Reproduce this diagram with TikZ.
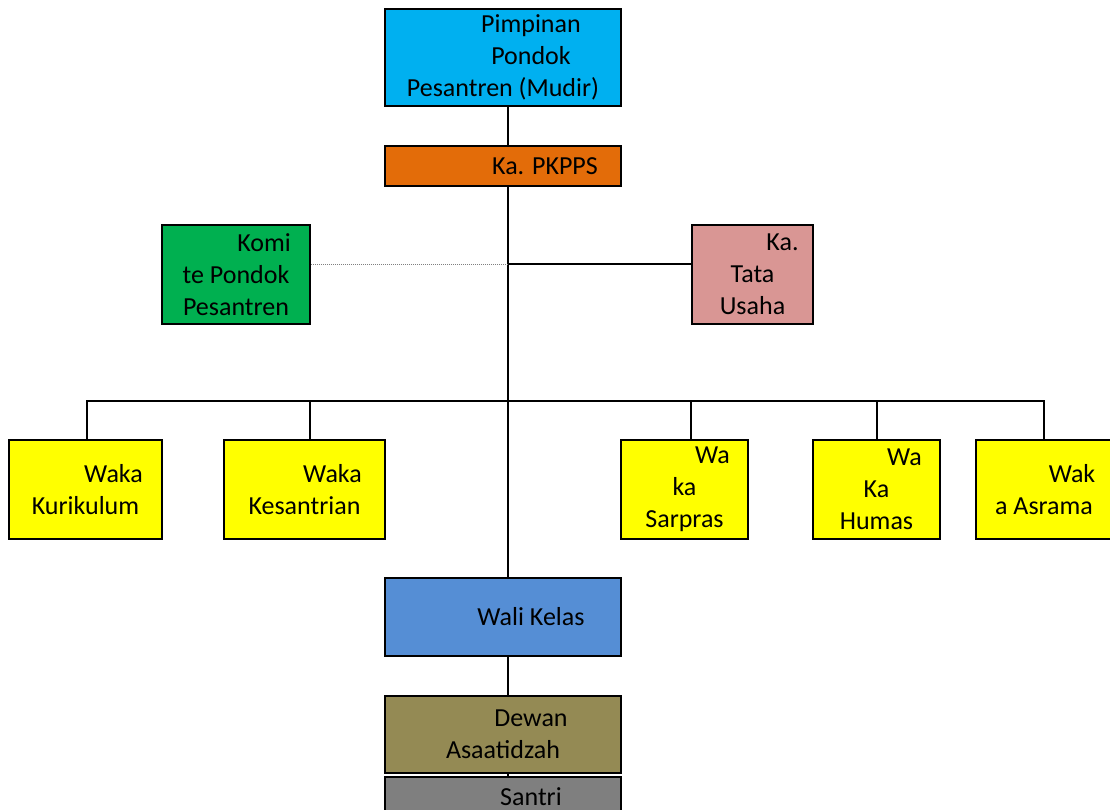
\documentclass[tikz,border=0pt]{standalone}
\usepackage{fontspec}
\setmainfont{Carlito}
\definecolor{mudircol}{HTML}{00B0F0}
\definecolor{pkppscol}{HTML}{E36C09}
\definecolor{komitecol}{HTML}{00B050}
\definecolor{tucol}{HTML}{D99694}
\definecolor{wakacol}{HTML}{FFFF00}
\definecolor{walicol}{HTML}{558ED5}
\definecolor{dewancol}{HTML}{948A54}
\definecolor{santricol}{HTML}{7F7F7F}
\tikzstyle{unit}=[rectangle,draw=black,line width=1.8pt,inner sep=0pt,align=center,font=\fontsize{26}{32}\selectfont]
\tikzstyle{waka}=[unit,fill=wakacol,minimum height=99pt]
\tikzstyle{link}=[draw=black,line width=1.8pt]
\tikzstyle{advisory}=[draw=gray,densely dotted,line width=1pt]
\newcommand{\firstindent}{\hspace*{56pt}}

\begin{document}
\begin{tikzpicture}[x=1pt,y=-1pt]
    \useasboundingbox (0,0) rectangle (1110,810);
    \node (mudir) at (503,57.5) [unit,fill=mudircol,minimum width=236pt,minimum height=97pt] {\firstindent Pimpinan\\\firstindent Pondok\\Pesantren (Mudir)};
    \node (pkpps) at (503,166) [unit,fill=pkppscol,minimum width=236pt,minimum height=40pt] {\hspace*{84pt}Ka. PKPPS};
    \node (komite) at (236,274.5) [unit,fill=komitecol,minimum width=148pt,minimum height=99pt] {\firstindent Komi\\te Pondok\\Pesantren};
    \node (tatausaha) at (752.5,274.5) [unit,fill=tucol,minimum width=121pt,minimum height=99pt] {\hspace*{60pt}Ka.\\Tata\\Usaha};

    \node (kurikulum) at (85.5,489.5) [waka,minimum width=153pt] {\firstindent Waka\\Kurikulum};
    \node (kesantrian) at (304.5,489.5) [waka,minimum width=161pt] {\firstindent Waka\\Kesantrian};
    \node (sarpras) at (684.5,489.5) [waka,minimum width=127pt] {\firstindent Wa\\ka\\Sarpras};
    \node (humas) at (876.5,489.5) [waka,minimum width=127pt] {\firstindent Wa\\Ka\\Humas};
    \node (asrama) at (1044,489.5) [waka,minimum width=136pt] {\firstindent Wak\\a Asrama};

    \node (wali) at (503,617) [unit,fill=walicol,minimum width=236pt,minimum height=78pt] {\firstindent Wali Kelas};
    \node (dewan) at (503,734.5) [unit,fill=dewancol,minimum width=236pt,minimum height=77pt] {\firstindent Dewan\\Asaatidzah};
    \node (santri) at (503,797) [unit,fill=santricol,minimum width=236pt,minimum height=40pt] {\firstindent Santri};

    % spine and branches
    \coordinate (hub) at (508,264);
    \coordinate (bus) at (508,401);
    \draw [link] ([xshift=5pt]mudir.south) -- ([xshift=5pt]pkpps.north);
    \draw [link] ([xshift=5pt]pkpps.south) -- ([xshift=5pt]wali.north);
    \draw [link] (hub) -- (hub -| tatausaha.west);
    \draw [advisory] (hub -| komite.east) -- (hub);
    \foreach \n/\dx in {kurikulum/1.5,kesantrian/5.5,sarpras/6.5,humas/0.5,asrama/0}
        \draw [link] ([xshift=\dx pt]\n.north) |- (bus);
    \draw [link] ([xshift=5pt]wali.south) -- ([xshift=5pt]dewan.north);
    \draw [link] ([xshift=5pt]dewan.south) -- ([xshift=5pt]santri.north);
\end{tikzpicture}
\end{document}
